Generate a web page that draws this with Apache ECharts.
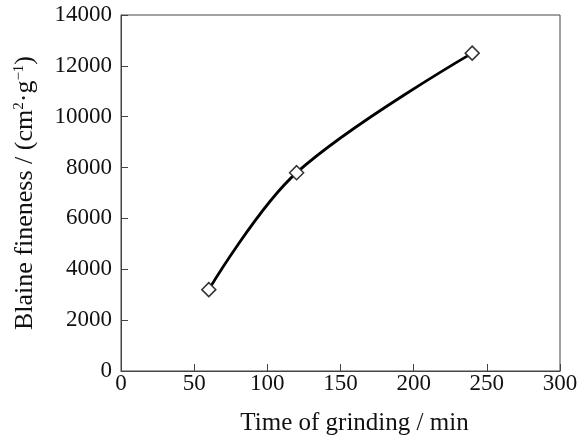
<!DOCTYPE html>
<html>
<head>
<meta charset="utf-8">
<script src="https://cdn.jsdelivr.net/npm/echarts@6/dist/echarts.min.js"></script>
<style>
  html, body { margin: 0; padding: 0; background: #fff; }
  #chart { width: 579px; height: 437px; }
</style>
</head>
<body>
<div id="chart"></div>
<script>
// grinding time (min) vs Blaine fineness (cm2/g)
const grindTime = [60, 120, 240];
const fineness = [3200, 7800, 12500];

const font = "Liberation Serif";
const axisColor = "#444";

const chart = echarts.init(document.getElementById("chart"));

const option = {
  backgroundColor: "#fff",
  animation: false,
  grid: {
    left: 121,
    right: 19,
    top: 15,
    bottom: 66,
    outerBoundsMode: "none",
    show: true,
    borderColor: axisColor,
    borderWidth: 1,
  },
  xAxis: {
    type: "value",
    min: 0,
    max: 300,
    interval: 50,
    name: "Time of grinding / min",
    nameLocation: "middle",
    nameGap: 40,
    nameTextStyle: { fontFamily: font, fontSize: 25, color: "#111", padding: [0, 0, 0, 28] },
    axisLine: { lineStyle: { color: axisColor } },
    axisTick: { inside: true, length: 7, lineStyle: { color: axisColor } },
    axisLabel: { fontFamily: font, fontSize: 23, color: "#111", margin: 1, formatter: (v) => String(v) },
    splitLine: { show: false },
  },
  yAxis: {
    type: "value",
    min: 0,
    max: 14000,
    interval: 2000,
    name: "Blaine fineness / (cm{sup|2}·g{sup|−1})",
    nameLocation: "middle",
    nameGap: 83,
    nameTextStyle: {
      fontFamily: font,
      fontSize: 26,
      color: "#111",
      rich: {
        sup: { fontFamily: font, fontSize: 15, color: "#111", verticalAlign: "top", padding: [0, 0, 10, 0] },
      },
    },
    axisLine: { lineStyle: { color: axisColor } },
    axisTick: { inside: true, length: 7, lineStyle: { color: axisColor } },
    axisLabel: { fontFamily: font, fontSize: 23, color: "#111", margin: 9, formatter: (v) => String(v) },
    splitLine: { show: false },
  },
  series: [
    {
      type: "line",
      data: grindTime.map((t, i) => [t, fineness[i]]),
      smooth: 0.35,
      symbol: "diamond",
      symbolSize: 14,
      lineStyle: { color: "#000", width: 2.8 },
      itemStyle: { color: "#fff", borderColor: "#333", borderWidth: 1.5 },
    },
  ],
};

chart.setOption(option);
</script>
</body>
</html>
